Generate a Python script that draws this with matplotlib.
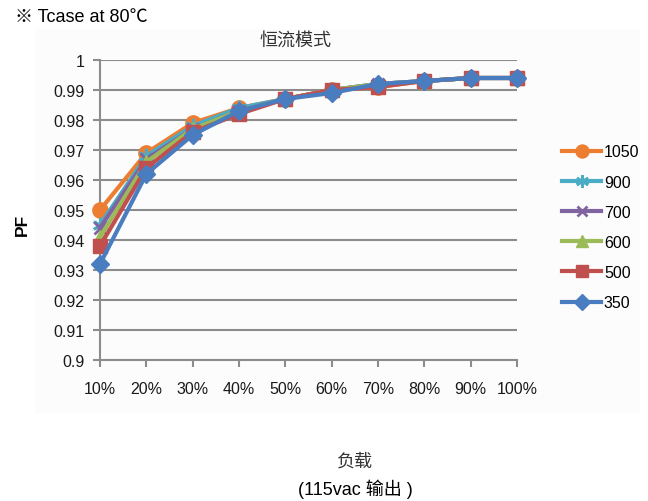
import matplotlib
matplotlib.use("Agg")
import matplotlib.pyplot as plt
from matplotlib.patches import Rectangle

plt.rcParams['font.family'] = ['Liberation Sans', 'Noto Sans CJK SC', 'DejaVu Sans']

loads = ['10%', '20%', '30%', '40%', '50%', '60%', '70%', '80%', '90%', '100%']

pf_1050 = [0.950, 0.969, 0.979, 0.984, 0.987, 0.990, 0.991, 0.993, 0.994, 0.994]
pf_900 = [0.945, 0.968, 0.978, 0.984, 0.987, 0.990, 0.992, 0.993, 0.994, 0.994]
pf_700 = [0.944, 0.967, 0.977, 0.983, 0.987, 0.990, 0.992, 0.993, 0.994, 0.994]
pf_600 = [0.941, 0.966, 0.977, 0.983, 0.987, 0.990, 0.992, 0.993, 0.994, 0.994]
pf_500 = [0.938, 0.964, 0.976, 0.982, 0.987, 0.990, 0.991, 0.993, 0.994, 0.994]
pf_350 = [0.932, 0.962, 0.975, 0.983, 0.987, 0.989, 0.992, 0.993, 0.994, 0.994]

series = [
    ('1050', pf_1050, '#ED7D31', 'o', 11),
    ('900', pf_900, '#4BACC6', (6, 2, 0), 11),
    ('700', pf_700, '#8064A2', 'x', 9),
    ('600', pf_600, '#9BBB59', '^', 10),
    ('500', pf_500, '#C0504D', 's', 10),
    ('350', pf_350, '#4A7CC0', 'D', 9),
]

fig = plt.figure(figsize=(6.48, 5.02), dpi=100)
W, H = 648, 502

# faint chart-area background
bg = fig.add_axes([0, 0, 1, 1], zorder=-5)
bg.axis('off')
bg.set_xlim(0, W)
bg.set_ylim(H, 0)
bg.add_patch(Rectangle((35, 30), 605, 385, facecolor='#fcfcfc', edgecolor='none'))

ax = fig.add_axes([100 / W, 1 - 361 / H, 417 / W, 300 / H])
ax.set_facecolor('none')

x = list(range(len(loads)))
for name, vals, col, mk, ms in series:
    ax.plot(x, vals, color=col, lw=3, marker=mk, ms=ms,
            mew=2 if mk == 'x' or isinstance(mk, tuple) else 1,
            mec=col, mfc=col, label=name, clip_on=False, zorder=3)

ax.set_xlim(0, len(loads) - 1)
ax.set_ylim(0.9, 1.0)
ax.set_yticks([0.9 + 0.01 * i for i in range(11)])
ax.set_yticklabels(['0.9', '0.91', '0.92', '0.93', '0.94', '0.95', '0.96',
                    '0.97', '0.98', '0.99', '1'])
ax.set_xticks(x)
ax.set_xticklabels(loads)

ax.grid(axis='y', color='#8c8c8c', lw=1.5)
ax.set_axisbelow(True)
for s in ['top', 'right']:
    ax.spines[s].set_visible(False)
ax.spines['left'].set_color('#8c8c8c')
ax.spines['left'].set_linewidth(1.5)
ax.spines['bottom'].set_color('#8c8c8c')
ax.spines['bottom'].set_linewidth(1.5)
ax.tick_params(axis='both', colors='#8c8c8c', labelcolor='#1a1a1a', labelsize=11.5,
               length=5, width=1.5)
ax.tick_params(axis='x', pad=10)
ax.tick_params(axis='y', pad=6)

ax.set_ylabel('PF', fontsize=12.5, fontweight='bold')
ax.yaxis.set_label_coords(-70 / 417, 1 - (225 - 61) / 300)

leg = ax.legend(loc='upper left', bbox_to_anchor=((556 - 100) / 417, 1 - (139 - 61) / 300),
                frameon=False, fontsize=11.5, handlelength=2.4, labelspacing=0.95,
                handletextpad=0.2, borderaxespad=0, markerscale=0.85)

fig.text(15 / W, 1 - 17 / H, '※ Tcase at 80℃', fontsize=13, va='center', ha='left')
fig.text(295 / W, 1 - 41 / H, '恒流模式', fontsize=13, va='center', ha='center',
         color='#333333', family=['Noto Sans CJK SC', 'DejaVu Sans'])
fig.text(355 / W, 1 - 462 / H, '负载', fontsize=13, va='center', ha='center',
         color='#333333', family=['Noto Sans CJK SC', 'DejaVu Sans'])
fig.text(355 / W, 1 - 489 / H, '(115vac 输出 )', fontsize=13, va='center', ha='center')

fig.savefig('out.png', dpi=100)
